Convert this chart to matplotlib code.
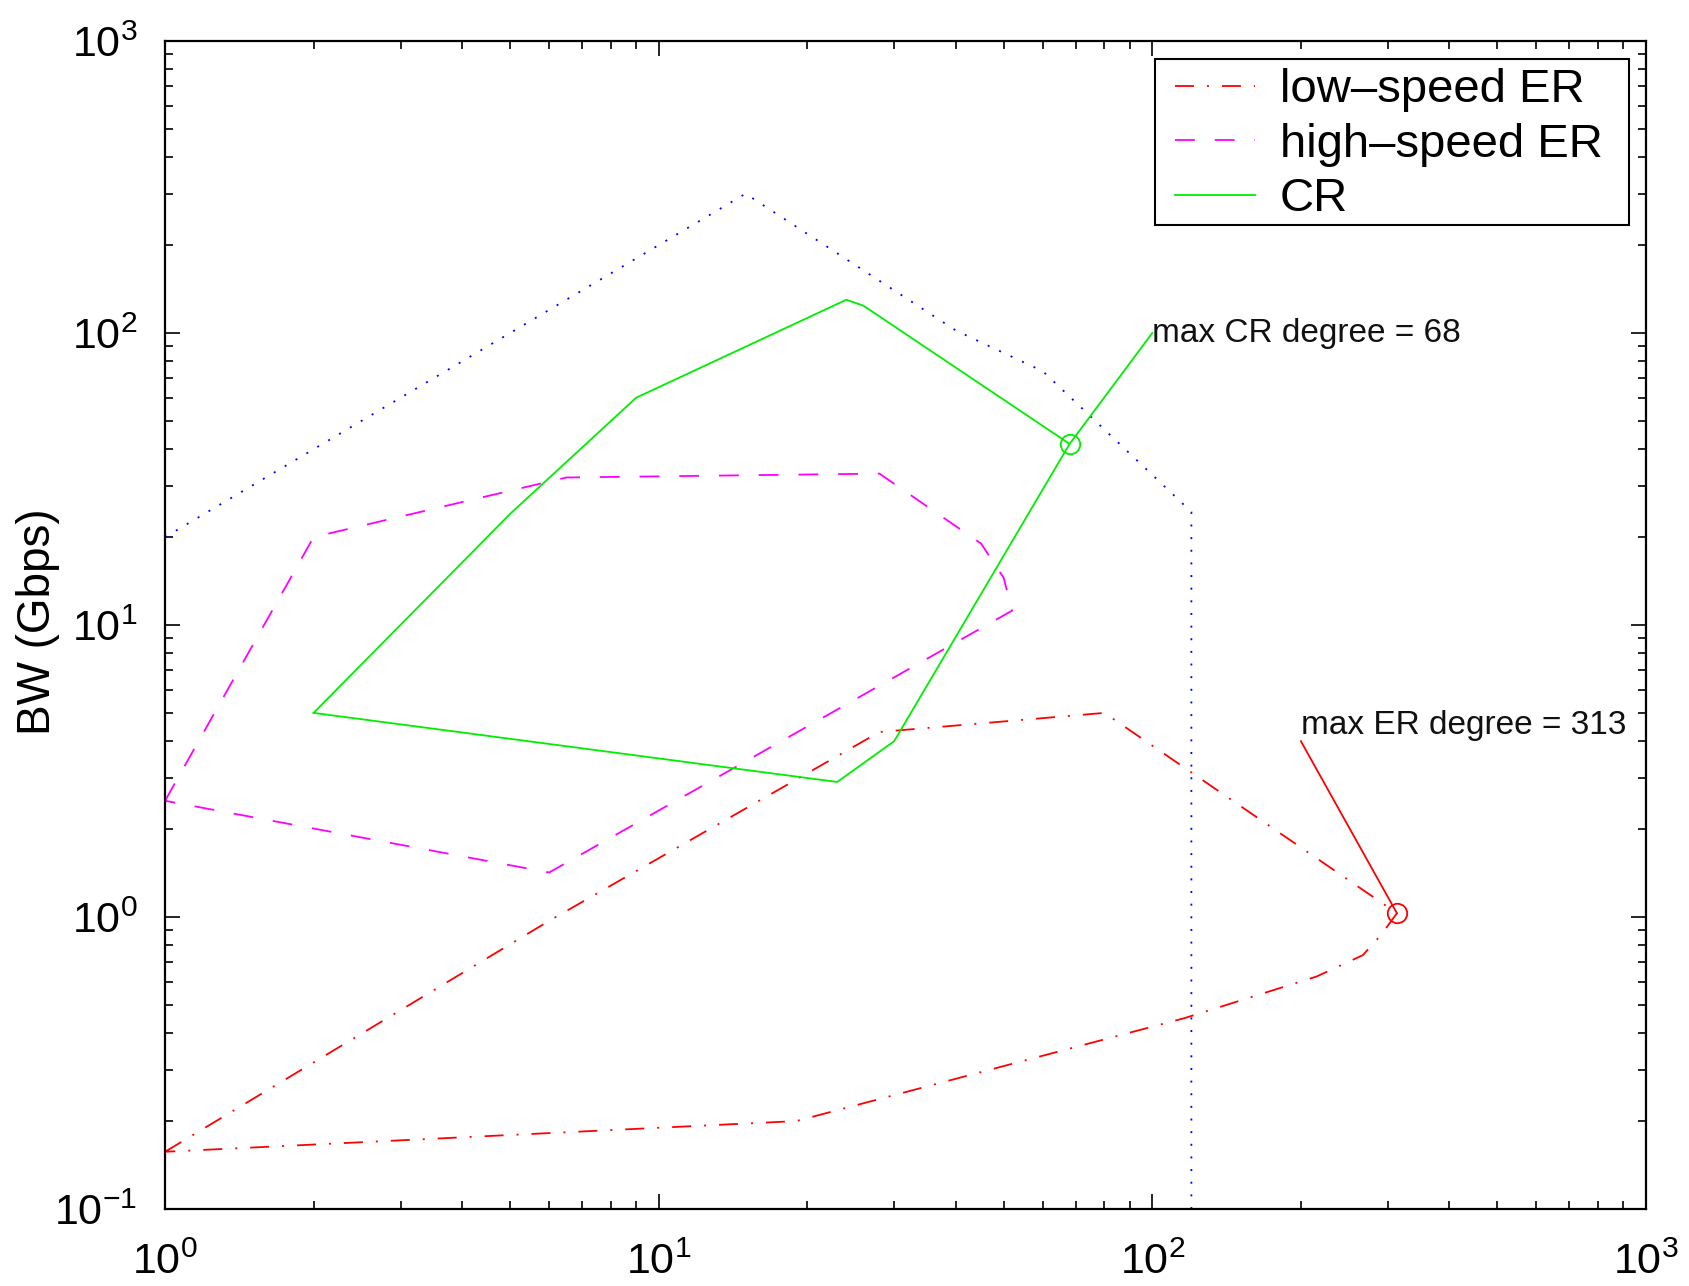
import matplotlib
matplotlib.use("Agg")
import matplotlib.pyplot as plt
from matplotlib.patches import Rectangle
from matplotlib.ticker import LogLocator, NullFormatter

plt.rcParams['font.family'] = ['Liberation Sans', 'DejaVu Sans']

# node degree vs. bandwidth regions
cr_deg = [2, 5, 9, 24, 26, 68, 30, 23, 2]
cr_bw = [5, 24, 60, 130, 124, 41.7, 4, 2.9, 5]

hs_deg = [1, 2, 6.5, 28, 45, 50, 52, 6, 1]
hs_bw = [2.5, 20, 32, 33, 19, 14.5, 11.2, 1.42, 2.5]

ls_deg = [1, 6, 28, 80, 313, 291, 267, 215, 116, 19, 1]
ls_bw = [0.157, 0.97, 4.3, 5, 1.03, 0.87, 0.74, 0.625, 0.45, 0.2, 0.157]

bound_deg = [1, 15, 40, 60, 120, 120]
bound_bw = [20, 300, 102, 74, 24.4, 0.1]

max_cr = (68, 41.7)
max_cr_text = (100, 100)
max_er = (313, 1.03)
max_er_text = (200, 4)


def main():
    fig = plt.figure(figsize=(16.89, 12.86), dpi=100)
    ax = fig.add_axes([0.0977, 0.0599, 0.8768, 0.9082])
    lw = 1.3

    ax.plot(bound_deg, bound_bw, color='#0000ff', lw=lw, linestyle=(0, (1.1, 5.9)))
    l1, = ax.plot(ls_deg, ls_bw, color='#ff0000', lw=lw,
                  linestyle=(0, (10.5, 7.2, 1.1, 7.2)), label='low\u2013speed ER')
    l2, = ax.plot(hs_deg, hs_bw, color='#ff00ff', lw=lw,
                  linestyle=(0, (11, 11)), label='high\u2013speed ER')
    l3, = ax.plot(cr_deg, cr_bw, color='#00ee00', lw=lw, label='CR')

    # max degree markers with leader lines
    ax.plot([max_cr[0]], [max_cr[1]], 'o', mfc='none', mec='#00ee00', ms=14, mew=1.3)
    ax.plot([max_cr[0], max_cr_text[0]], [max_cr[1], max_cr_text[1]], color='#00ee00', lw=lw)
    ax.text(max_cr_text[0], max_cr_text[1], 'max CR degree = 68', fontsize=24,
            ha='left', va='center', color='#111111')

    ax.plot([max_er[0]], [max_er[1]], 'o', mfc='none', mec='#ff0000', ms=14, mew=1.3)
    ax.plot([max_er[0], max_er_text[0]], [max_er[1], max_er_text[1]], color='#ff0000', lw=lw)
    ax.text(max_er_text[0], max_er_text[1], 'max ER degree = 313', fontsize=24,
            ha='left', va='bottom', color='#111111')

    ax.set_xscale('log')
    ax.set_yscale('log')
    ax.set_xlim(1, 1000)
    ax.set_ylim(0.1, 1000)
    ax.xaxis.set_minor_locator(LogLocator(base=10, subs=range(2, 10)))
    ax.yaxis.set_minor_locator(LogLocator(base=10, subs=range(2, 10)))
    ax.xaxis.set_minor_formatter(NullFormatter())
    ax.yaxis.set_minor_formatter(NullFormatter())

    ax.tick_params(which='both', direction='in', top=True, right=True, width=1.2)
    ax.tick_params(which='major', length=11, labelsize=31)
    ax.tick_params(which='minor', length=6)
    ax.tick_params(axis='x', which='major', pad=24)
    ax.tick_params(axis='y', which='major', pad=20)
    for s in ax.spines.values():
        s.set_linewidth(1.6)

    ax.set_ylabel('BW (Gbps)', fontsize=33, va='center')
    ax.yaxis.set_label_coords(-0.0858, 0.5026)

    # legend box drawn separately so the side padding can be wider
    box = Rectangle((0.6685, 0.8425), 0.32, 0.1421, transform=ax.transAxes,
                    facecolor='white', edgecolor='black', lw=1.5, zorder=4.5)
    ax.add_patch(box)
    ax.legend(handles=[l1, l2, l3], loc='upper right', bbox_to_anchor=(0.977, 0.9846),
              borderaxespad=0, fontsize=34, labelspacing=0.22, handlelength=1.69,
              handletextpad=0.53, borderpad=0.2, frameon=False)

    fig.savefig('out.png', dpi=100)
    plt.close(fig)


if __name__ == "__main__":
    main()
